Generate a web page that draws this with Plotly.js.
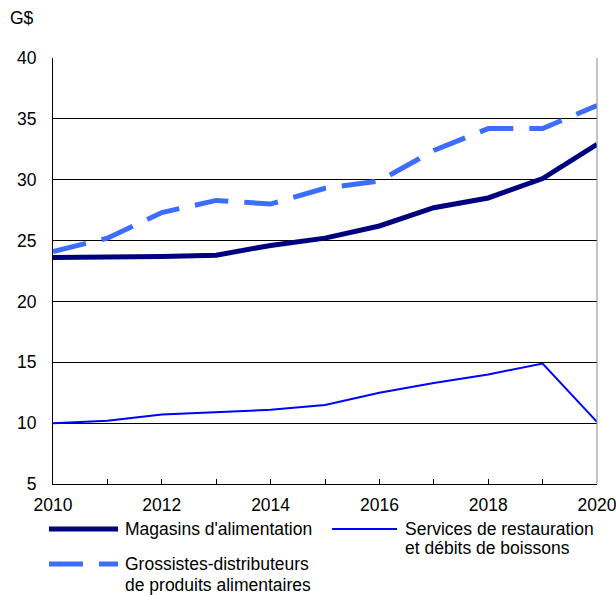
<!DOCTYPE html>
<html><head><meta charset="utf-8">
<script src="https://cdn.plot.ly/plotly-3.0.1.min.js"></script>
<style>body{margin:0}#c{width:616px;height:595px}</style>
</head><body><div id="c"></div>
<script>
const years = [2010,2011,2012,2013,2014,2015,2016,2017,2018,2019,2020];
const magasins = [23.6,23.6,23.7,23.8,24.6,25.2,26.2,27.7,28.5,30.1,32.9];
const services = [10.0,10.2,10.7,10.9,11.1,11.5,12.5,13.3,14.0,14.9,10.1];
const grossistes = [24.1,25.2,27.3,28.3,28.0,29.3,29.9,32.4,34.2,34.2,36.1];
const seriesNames = ["Magasins d'alimentation","Services de restauration et débits de boissons","Grossistes-distributeurs de produits alimentaires"];
const legendLines = [["Magasins d'alimentation"],["Services de restauration","et débits de boissons"],["Grossistes-distributeurs","de produits alimentaires"]];
const yTicks = [5,10,15,20,25,30,35,40];
const xTickLabels = years.map(y => (y % 2 === 0 ? String(y) : ''));

const colors = ['#00007f','#0000ff','#3d6dff'];
const widths = [5,2,5];
const dashes = ['solid','solid','34px,16px'];
const values = [magasins, services, grossistes];

const data = values.map((v,i) => ({x: years, y: v, name: seriesNames[i], mode:'lines',
  line:{color:colors[i], width:widths[i], dash:dashes[i]}}));

// manual legend (paper coordinates)
const FS = 17.5;
const legendPos = [
  {x0:-0.0074, x1:0.1195, y:-0.1056, tx:0.1287, ty:[-0.1056]},
  {x0:0.5129, x1:0.6324, y:-0.1056, tx:0.6434, ty:[-0.1056,-0.1502]},
  {x0:-0.0074, x1:0.1195, y:-0.1878, tx:0.1287, ty:[-0.1878,-0.2371]}
];
const shapes = [{type:'line', xref:'paper', yref:'paper', x0:1, x1:1, y0:0, y1:1, line:{color:'#888', width:1}}];
const annotations = [{text:'G$', xref:'paper', yref:'paper', x:-0.0827, y:1.094, xanchor:'left', yanchor:'middle', showarrow:false, font:{size:FS}}];
legendPos.forEach((p,i) => {
  shapes.push({type:'line', xref:'paper', yref:'paper', x0:p.x0, x1:p.x1, y0:p.y, y1:p.y,
    line:{color:colors[i], width:widths[i], dash:dashes[i]}});
  legendLines[i].forEach((t,j) => annotations.push({text:t, xref:'paper', yref:'paper', x:p.tx, y:p.ty[j],
    xanchor:'left', yanchor:'middle', showarrow:false, font:{size:FS}}));
});

const layout = {
  width:616, height:595,
  margin:{l:53, r:19, t:58, b:111, autoexpand:false},
  paper_bgcolor:'#fff', plot_bgcolor:'#fff',
  font:{family:'Liberation Sans, Arial, sans-serif', size:FS, color:'#000'},
  showlegend:false,
  xaxis:{range:[2010,2020], tickvals:years, ticktext:xTickLabels,
         ticks:'inside', ticklen:5, tickcolor:'#000', showgrid:false,
         showline:true, linecolor:'#000', linewidth:1, zeroline:false,
         ticklabelstandoff:5, ticklabeloverflow:'allow', fixedrange:true},
  yaxis:{range:[5,40], tickvals:yTicks, ticktext:yTicks.map(String),
         showgrid:true, gridcolor:'#000', gridwidth:1, ticks:'',
         showline:true, linecolor:'#000', linewidth:1, zeroline:false,
         ticklabelstandoff:12, fixedrange:true},
  shapes: shapes,
  annotations: annotations
};
Plotly.newPlot('c', data, layout, {displayModeBar:false, staticPlot:true});
</script></body></html>
